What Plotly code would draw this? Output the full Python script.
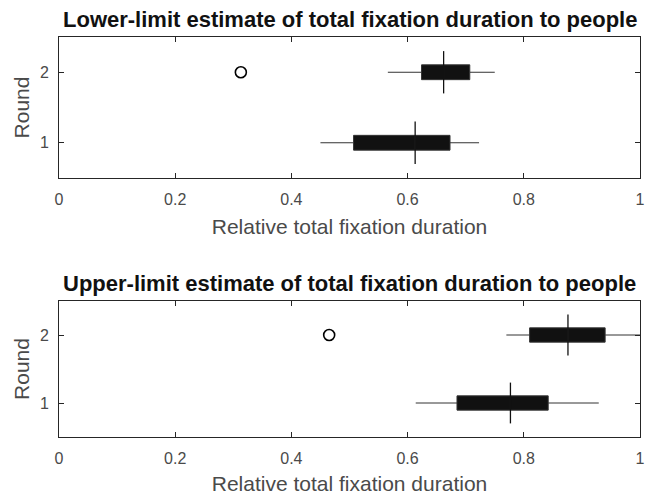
import plotly.graph_objects as go
from plotly.subplots import make_subplots

rounds = [1, 2]
titles = ["Lower-limit estimate of total fixation duration to people",
          "Upper-limit estimate of total fixation duration to people"]

# Lower-limit panel (round 1, round 2)
low_lo = [0.450, 0.566]
low_q1 = [0.507, 0.624]
low_med = [0.613, 0.662]
low_q3 = [0.673, 0.707]
low_hi = [0.723, 0.750]
low_out_x = [0.313]
low_out_y = [2]

# Upper-limit panel
up_lo = [0.614, 0.770]
up_q1 = [0.685, 0.810]
up_med = [0.777, 0.876]
up_q3 = [0.842, 0.940]
up_hi = [0.929, 1.000]
up_out_x = [0.465]
up_out_y = [2]

x_ticks = [0, 0.2, 0.4, 0.6, 0.8, 1]
x_ticktext = ["0", "0.2", "0.4", "0.6", "0.8", "1"]

BOX_W = 0.21
MED_HALF = 0.3
FONT = "Liberation Sans, Arial, Helvetica, sans-serif"
AXC = "#262626"
TXT = "#4a4a4a"

fig = make_subplots(rows=2, cols=1)

panels = [
    (low_lo, low_q1, low_med, low_q3, low_hi, low_out_x, low_out_y),
    (up_lo, up_q1, up_med, up_q3, up_hi, up_out_x, up_out_y),
]

for i, (lo, q1, med, q3, hi, ox, oy) in enumerate(panels):
    row = i + 1
    fig.add_trace(go.Box(
        y=rounds, q1=q1, median=med, q3=q3, lowerfence=lo, upperfence=hi,
        orientation="h", width=BOX_W, whiskerwidth=0,
        fillcolor="#111111", line=dict(color="#333333", width=1),
        boxpoints=False, hoverinfo="skip", showlegend=False,
    ), row=row, col=1)
    # median tick lines
    mx, my = [], []
    for r, m in zip(rounds, med):
        mx += [m, m, None]
        my += [r - MED_HALF, r + MED_HALF, None]
    fig.add_trace(go.Scatter(x=mx, y=my, mode="lines",
                             line=dict(color="#111111", width=1.3),
                             showlegend=False, hoverinfo="skip"), row=row, col=1)
    fig.add_trace(go.Scatter(x=ox, y=oy, mode="markers",
                             marker=dict(symbol="circle-open", size=11,
                                         color="#000000", line=dict(width=1.6)),
                             showlegend=False, hoverinfo="skip"), row=row, col=1)

W, H = 649, 495
xd = [59 / W, 640 / W]
yd_top = [1 - 178 / H, 1 - 37 / H]
yd_bot = [1 - 437 / H, 1 - 301 / H]

axis_common = dict(showline=True, linecolor=AXC, linewidth=1, mirror="ticks",
                   ticks="inside", ticklen=5, tickcolor=AXC, showgrid=False,
                   zeroline=False, automargin=False,
                   tickfont=dict(family=FONT, size=16, color=TXT))

for idx, yd in [(1, yd_top), (2, yd_bot)]:
    fig.update_xaxes(domain=xd, range=[0, 1], tickvals=x_ticks, ticktext=x_ticktext,
                     ticklabelstandoff=7,
                     title=dict(text="Relative total fixation duration",
                                font=dict(family=FONT, size=21, color=TXT), standoff=12),
                     **axis_common, row=idx, col=1)
    fig.update_yaxes(domain=yd, range=[0.5, 2.5], tickvals=rounds,
                     ticktext=[str(r) for r in rounds], ticklabelstandoff=6,
                     title=dict(text="Round", font=dict(family=FONT, size=21, color=TXT),
                                standoff=4),
                     **axis_common, row=idx, col=1)

annotations = []
for t, yd in [(titles[0], yd_top), (titles[1], yd_bot)]:
    annotations.append(dict(text="<b>" + t + "</b>", x=(xd[0] + xd[1]) / 2, y=yd[1],
                            xref="paper", yref="paper", xanchor="center", yanchor="bottom",
                            yshift=3, showarrow=False,
                            font=dict(family=FONT, size=22, color="#111111")))

fig.update_layout(width=W, height=H, margin=dict(l=0, r=0, t=0, b=0),
                  paper_bgcolor="white", plot_bgcolor="white",
                  annotations=annotations, showlegend=False)

fig.write_html("out.html")
